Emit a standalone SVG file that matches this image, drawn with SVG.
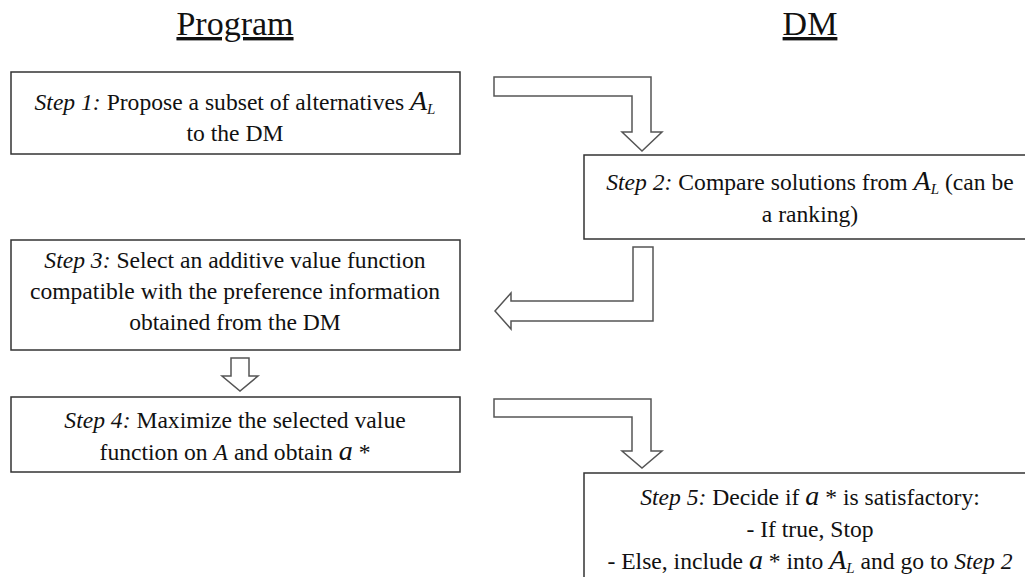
<svg xmlns="http://www.w3.org/2000/svg" width="1025" height="577" viewBox="0 0 1025 577">
<style>
  .box { fill: #fff; stroke: #333; stroke-width: 1.5; }
  .arrow { fill: #fff; stroke: #555; stroke-width: 1.5; stroke-linejoin: miter; }
</style>
<rect width="1025" height="577" fill="#fff"/>
<g id="headers" font-family="Liberation Serif" font-size="34" fill="#111" text-anchor="middle" text-decoration="underline">
  <text x="235" y="35">Program</text>
  <text x="810" y="35">DM</text>
</g>
<g id="step1" font-family="Liberation Serif" font-size="23.6" fill="#111" text-anchor="middle">
  <rect class="box" x="11" y="72" width="449" height="82"/>
  <text x="235" y="110"><tspan font-style="italic">Step 1:</tspan> Propose a subset of alternatives  <tspan font-style="italic" font-size="28">A</tspan><tspan font-style="italic" font-size="15" dy="4">L</tspan></text>
  <text x="235" y="141">to the DM</text>
</g>
<g id="step2" font-family="Liberation Serif" font-size="23.6" fill="#111" text-anchor="middle">
  <rect class="box" x="584" y="155" width="452" height="84"/>
  <text x="810" y="190"><tspan font-style="italic">Step 2:</tspan> Compare solutions from  <tspan font-style="italic" font-size="28">A</tspan><tspan font-style="italic" font-size="15" dy="4">L</tspan><tspan dy="-4">  (can be</tspan></text>
  <text x="810" y="222">a ranking)</text>
</g>
<g id="step3" font-family="Liberation Serif" font-size="23.6" fill="#111" text-anchor="middle">
  <rect class="box" x="11" y="240" width="449" height="110"/>
  <text x="235" y="268"><tspan font-style="italic">Step 3:</tspan> Select an additive value function</text>
  <text x="235" y="299">compatible with the preference information</text>
  <text x="235" y="330">obtained from the DM</text>
</g>
<g id="step4" font-family="Liberation Serif" font-size="23.6" fill="#111" text-anchor="middle">
  <rect class="box" x="11" y="397" width="449" height="75"/>
  <text x="235" y="428"><tspan font-style="italic">Step 4:</tspan> Maximize the selected value</text>
  <text x="235" y="460">function on <tspan font-style="italic">A</tspan>  and obtain <tspan font-style="italic" font-size="28">a</tspan> *</text>
</g>
<g id="step5" font-family="Liberation Serif" font-size="23.6" fill="#111" text-anchor="middle">
  <rect class="box" x="584" y="473" width="452" height="120"/>
  <text x="810" y="505"><tspan font-style="italic">Step 5:</tspan> Decide if <tspan font-style="italic" font-size="28">a</tspan> * is satisfactory:</text>
  <text x="810" y="537">- If true, Stop</text>
  <text x="810" y="569">- Else, include <tspan font-style="italic" font-size="28">a</tspan> * into <tspan font-style="italic" font-size="28">A</tspan><tspan font-style="italic" font-size="15" dy="4">L</tspan><tspan dy="-4">  and go to </tspan><tspan font-style="italic">Step 2</tspan></text>
</g>
<g id="connectors">
  <polygon class="arrow" points="494,77 651,77 651,132 662,132 642,151 622,132 632,132 632,96 494,96"/>
  <polygon class="arrow" points="633,247 653,247 653,321 511,321 511,329 495,311 511,293 511,301 633,301"/>
  <polygon class="arrow" points="231,358 249,358 249,376 258,376 240,391 222,376 231,376"/>
  <polygon class="arrow" points="494,399 651,399 651,451 662,451 642,468 622,451 632,451 632,417 494,417"/>
</g>
</svg>
